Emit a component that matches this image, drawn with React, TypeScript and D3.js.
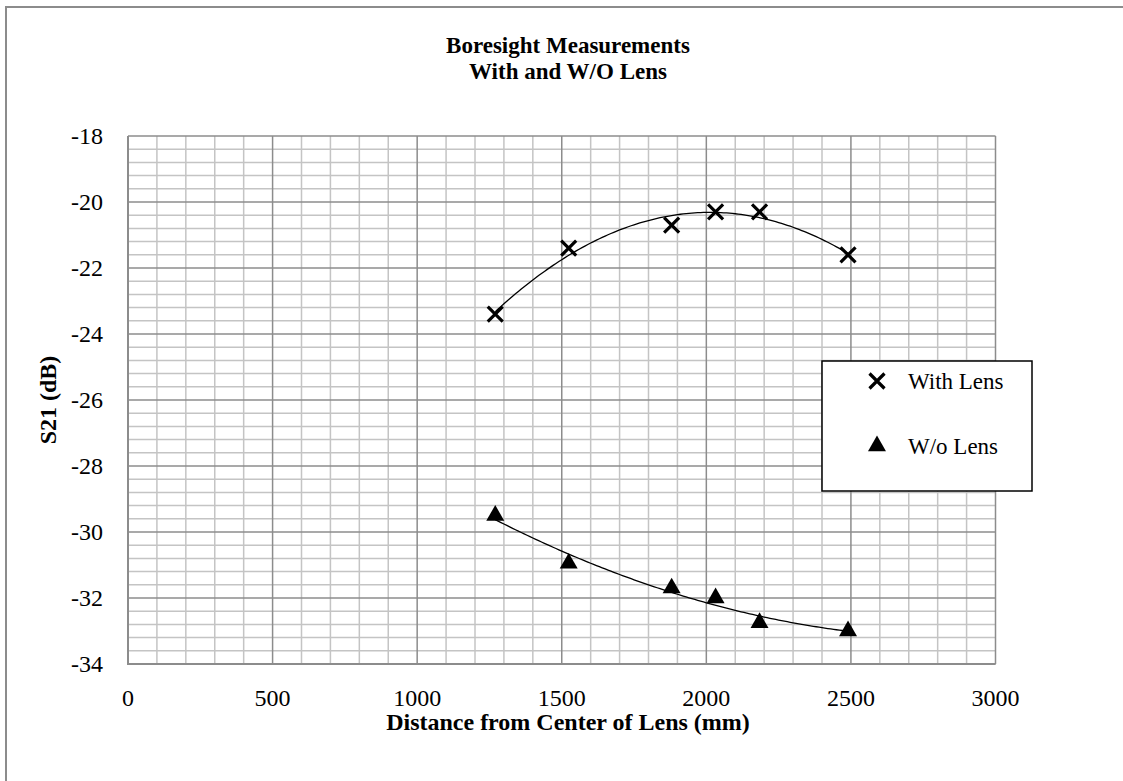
import { useEffect, useRef } from 'react';
import * as d3 from 'd3';

const distances = [1270, 1524, 1880, 2032, 2184, 2490];
const withLens = [-23.4, -21.4, -20.7, -20.3, -20.3, -21.6];
const withoutLens = [-29.5, -30.95, -31.7, -32.0, -32.75, -33.0];
const xTicks = [0, 500, 1000, 1500, 2000, 2500, 3000];
const yTicks = [-18, -20, -22, -24, -26, -28, -30, -32, -34];

// least squares quadratic (like Excel's poly order 2 trendline)
function quadFit(xs: number[], ys: number[]) {
  const n = xs.length;
  let s1 = 0, s2 = 0, s3 = 0, s4 = 0, t0 = 0, t1 = 0, t2 = 0;
  for (let i = 0; i < n; i++) {
    const x = xs[i], y = ys[i];
    s1 += x; s2 += x * x; s3 += x * x * x; s4 += x * x * x * x;
    t0 += y; t1 += x * y; t2 += x * x * y;
  }
  const m = [
    [n, s1, s2, t0],
    [s1, s2, s3, t1],
    [s2, s3, s4, t2],
  ];
  for (let c = 0; c < 3; c++) {
    for (let r = c + 1; r < 3; r++) {
      const f = m[r][c] / m[c][c];
      for (let k = c; k < 4; k++) m[r][k] -= f * m[c][k];
    }
  }
  const b = [0, 0, 0];
  for (let r = 2; r >= 0; r--) {
    let s = m[r][3];
    for (let k = r + 1; k < 3; k++) s -= m[r][k] * b[k];
    b[r] = s / m[r][r];
  }
  return (x: number) => b[0] + b[1] * x + b[2] * x * x;
}

const App = () => {
  const svgRef = useRef<SVGSVGElement>(null);

  useEffect(() => {
    if (!svgRef.current) return;
    const svg = d3.select(svgRef.current);
    svg.selectAll('*').remove();

    const font = '"Liberation Serif", "Times New Roman", serif';
    const left = 128, right = 995.5, top = 136, bottom = 664;
    const titleX = 568;

    const x = d3.scaleLinear().domain([0, 3000]).range([left, right]);
    const y = d3.scaleLinear().domain([-34, -18]).range([bottom, top]);

    // outer frame (only top/left visible)
    svg.append('rect')
      .attr('x', 6).attr('y', 7)
      .attr('width', 1130).attr('height', 790)
      .attr('fill', 'white')
      .attr('stroke', '#8c8c8c').attr('stroke-width', 2);

    // minor grid
    const g = svg.append('g');
    d3.range(0, 3001, 100).forEach(v => {
      if (v % 500 === 0) return;
      g.append('line')
        .attr('x1', x(v)).attr('x2', x(v)).attr('y1', top).attr('y2', bottom)
        .attr('stroke', '#c4c4c4').attr('stroke-width', 1.5);
    });
    d3.range(0, 41).forEach(i => {
      if (i % 5 === 0) return;
      const v = -34 + i * 0.4;
      g.append('line')
        .attr('x1', left).attr('x2', right).attr('y1', y(v)).attr('y2', y(v))
        .attr('stroke', '#c4c4c4').attr('stroke-width', 1.5);
    });
    // major grid
    xTicks.forEach(v => {
      g.append('line')
        .attr('x1', x(v)).attr('x2', x(v)).attr('y1', top).attr('y2', bottom)
        .attr('stroke', '#8c8c8c').attr('stroke-width', 1.5);
    });
    yTicks.forEach(v => {
      g.append('line')
        .attr('x1', left).attr('x2', right).attr('y1', y(v)).attr('y2', y(v))
        .attr('stroke', '#8c8c8c').attr('stroke-width', 1.5);
    });
    // axis lines
    g.append('line')
      .attr('x1', left).attr('x2', left).attr('y1', top).attr('y2', bottom + 1)
      .attr('stroke', '#8c8c8c').attr('stroke-width', 2);
    g.append('line')
      .attr('x1', left).attr('x2', right).attr('y1', bottom).attr('y2', bottom)
      .attr('stroke', '#8c8c8c').attr('stroke-width', 2);

    // tick labels
    svg.append('g').selectAll('text').data(xTicks).enter().append('text')
      .attr('x', d => x(d)).attr('y', bottom + 42)
      .attr('text-anchor', 'middle')
      .style('font-family', font).style('font-size', '24px')
      .text(d => d);
    svg.append('g').selectAll('text').data(yTicks).enter().append('text')
      .attr('x', 103).attr('y', d => y(d) + 8)
      .attr('text-anchor', 'end')
      .style('font-family', font).style('font-size', '24px')
      .text(d => d);

    // titles
    const title = svg.append('text')
      .attr('text-anchor', 'middle')
      .style('font-family', font).style('font-size', '23px').style('font-weight', 'bold');
    title.append('tspan').attr('x', titleX).attr('y', 53).text('Boresight Measurements');
    title.append('tspan').attr('x', titleX).attr('y', 79).text('With and W/O Lens');

    svg.append('text')
      .attr('x', titleX).attr('y', 730)
      .attr('text-anchor', 'middle')
      .style('font-family', font).style('font-size', '24px').style('font-weight', 'bold')
      .text('Distance from Center of Lens (mm)');
    svg.append('text')
      .attr('transform', `translate(56,${(top + bottom) / 2}) rotate(-90)`)
      .attr('text-anchor', 'middle')
      .style('font-family', font).style('font-size', '24px').style('font-weight', 'bold')
      .text('S21 (dB)');

    // trendlines
    const xs = d3.range(distances[0], distances[distances.length - 1] + 1, 10);
    [withLens, withoutLens].forEach(series => {
      const f = quadFit(distances, series);
      svg.append('path')
        .attr('d', d3.line<number>().x(d => x(d)).y(d => y(f(d)))(xs) as string)
        .attr('fill', 'none').attr('stroke', 'black').attr('stroke-width', 1.3);
    });

    const cross = (gsel: d3.Selection<SVGGElement, unknown, null, undefined>, cx: number, cy: number) => {
      const s = 7.5;
      gsel.append('path')
        .attr('d', `M${cx - s},${cy - s}L${cx + s},${cy + s}M${cx - s},${cy + s}L${cx + s},${cy - s}`)
        .attr('stroke', 'black').attr('stroke-width', 3.2).attr('fill', 'none');
    };
    const tri = d3.symbol().type(d3.symbolTriangle).size(140);

    const marks = svg.append('g');
    distances.forEach((d, i) => {
      cross(marks, x(d), y(withLens[i]));
      marks.append('path')
        .attr('d', tri() as string)
        .attr('transform', `translate(${x(d)},${y(withoutLens[i])})`)
        .attr('fill', 'black');
    });

    // legend
    const lg = svg.append('g');
    lg.append('rect')
      .attr('x', 822).attr('y', 361).attr('width', 210).attr('height', 130)
      .attr('fill', 'white').attr('stroke', 'black').attr('stroke-width', 1.5);
    cross(lg, 877, 381);
    lg.append('path').attr('d', tri() as string)
      .attr('transform', 'translate(877,446)').attr('fill', 'black');
    lg.append('text').attr('x', 908).attr('y', 389)
      .style('font-family', font).style('font-size', '23px').text('With Lens');
    lg.append('text').attr('x', 908).attr('y', 454)
      .style('font-family', font).style('font-size', '23px').text('W/o Lens');
  }, []);

  return (
    <svg ref={svgRef} width={1123} height={781}
      style={{ position: 'absolute', left: 0, top: 0, background: 'white' }} />
  );
};

export default App;
